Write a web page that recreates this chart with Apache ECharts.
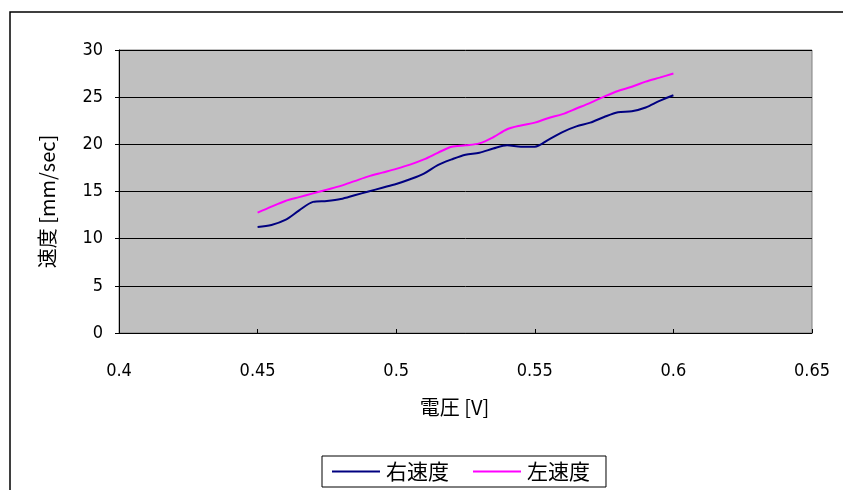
<!DOCTYPE html>
<html><head><meta charset="utf-8">
<script src="https://cdn.jsdelivr.net/npm/echarts@6/dist/echarts.min.js"></script>
<style>html,body{margin:0;padding:0;background:#fff}#c{width:843px;height:490px}</style>
</head><body><div id="c"></div>
<script>
const voltage = [0.45,0.455,0.46,0.465,0.47,0.475,0.48,0.485,0.49,0.495,0.5,0.505,0.51,0.515,0.52,0.525,0.53,0.535,0.54,0.545,0.55,0.555,0.56,0.565,0.57,0.575,0.58,0.585,0.59,0.595,0.6];
const rightSpeed = [11.24,11.45,11.98,13.0,13.9,14.0,14.2,14.6,15.0,15.4,15.8,16.3,16.9,17.8,18.4,18.9,19.1,19.55,19.9,19.75,19.75,20.5,21.3,21.9,22.3,22.9,23.4,23.5,23.9,24.6,25.2];
const leftSpeed = [12.76,13.4,14.0,14.4,14.8,15.2,15.6,16.1,16.6,17.0,17.4,17.85,18.4,19.1,19.75,19.9,20.1,20.75,21.6,22.0,22.3,22.8,23.2,23.8,24.4,25.06,25.66,26.1,26.65,27.07,27.5];
const seriesNames = ['右速度','左速度'];
const xAxisTitle = '電圧 [V]';
const yAxisTitle = '速度 [mm/sec]';

const font = '"DejaVu Sans Condensed","Liberation Sans Narrow","Liberation Sans",sans-serif';
const cjk = '"Noto Sans CJK JP","Liberation Sans",sans-serif';
const chart = echarts.init(document.getElementById('c'), null, {renderer:'canvas'});
chart.setOption({
  animation:false,
  backgroundColor:'#fff',
  graphic:[{type:'rect',shape:{x:10,y:12,width:900,height:700},style:{fill:'none',stroke:'#000',lineWidth:1.5},z:-1}],
  grid:{left:119,right:31,top:50,bottom:157,show:true,backgroundColor:'#C0C0C0',borderColor:'#808080',borderWidth:1},
  legend:{bottom:3,left:322,itemWidth:48,itemHeight:2,itemGap:24,icon:'rect',
    borderColor:'#000',borderWidth:1,padding:[5,16,5,10],itemStyle:{borderWidth:0},
    textStyle:{fontFamily:cjk,fontSize:21,color:'#000',padding:[0,0,0,1]},data:seriesNames},
  xAxis:{type:'value',min:0.4,max:0.65,interval:0.05,
    name:xAxisTitle,nameLocation:'middle',nameGap:64,
    nameTextStyle:{fontFamily:cjk,fontSize:20,color:'#000',padding:[0,22,0,0]},
    axisLine:{lineStyle:{color:'#000',width:1}},
    axisTick:{show:true,inside:true,length:4,lineStyle:{color:'#000'}},
    splitLine:{show:false},
    axisLabel:{fontFamily:font,fontSize:18,color:'#000',margin:29,formatter:v=>String(parseFloat(v.toFixed(3)))}},
  yAxis:{type:'value',min:0,max:30,interval:5,
    name:yAxisTitle,nameLocation:'middle',nameGap:62,nameRotate:90,
    nameTextStyle:{fontFamily:cjk,fontSize:20,color:'#000',padding:[0,20,0,0]},
    axisLine:{show:true,lineStyle:{color:'#000',width:1}},
    axisTick:{show:true,length:4,lineStyle:{color:'#000'}},
    splitLine:{show:true,lineStyle:{color:'#000',width:1}},
    axisLabel:{fontFamily:font,fontSize:18,color:'#000',margin:16}},
  series:[
    {name:seriesNames[0],type:'line',data:voltage.map((v,i)=>[v,rightSpeed[i]]),showSymbol:false,smooth:0.3,
      lineStyle:{color:'#000080',width:2},itemStyle:{color:'#000080'}},
    {name:seriesNames[1],type:'line',data:voltage.map((v,i)=>[v,leftSpeed[i]]),showSymbol:false,smooth:0.3,
      lineStyle:{color:'#FF00FF',width:2},itemStyle:{color:'#FF00FF'}}
  ]
});
</script></body></html>
